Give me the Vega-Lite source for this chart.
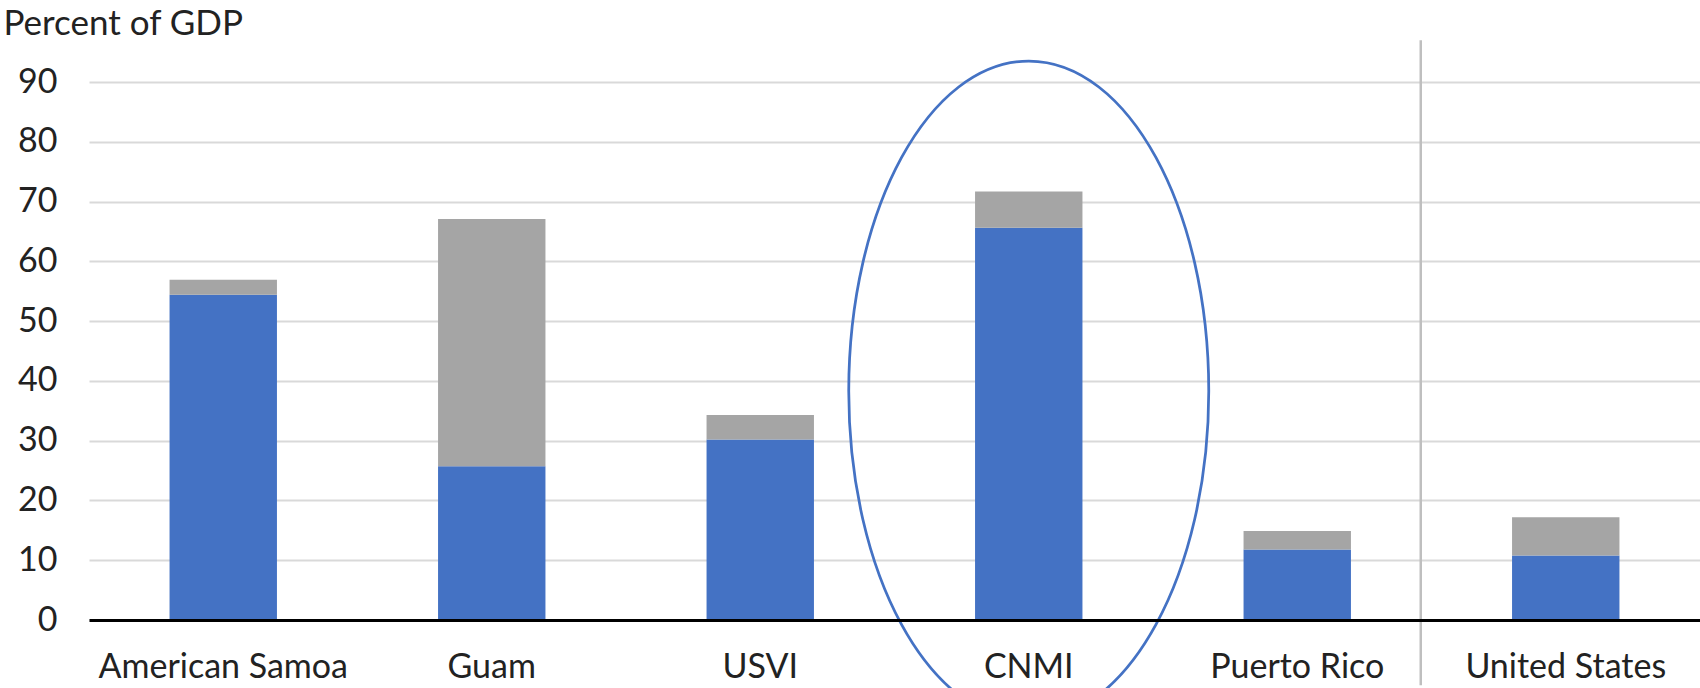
{
  "$schema": "https://vega.github.io/schema/vega-lite/v6.json",
  "width": 1611,
  "height": 538,
  "autosize": {"type": "none"},
  "padding": {"left": 89, "right": 0, "top": 82, "bottom": 68},
  "background": "white",
  "config": {"view": {"stroke": null}, "font": "Lato"},
  "datasets": {
    "bars": [
      {"country": "American Samoa", "part": "Primary", "value": 54.4},
      {"country": "American Samoa", "part": "Secondary", "value": 2.5},
      {"country": "Guam", "part": "Primary", "value": 25.7},
      {"country": "Guam", "part": "Secondary", "value": 41.4},
      {"country": "USVI", "part": "Primary", "value": 30.2},
      {"country": "USVI", "part": "Secondary", "value": 4.1},
      {"country": "CNMI", "part": "Primary", "value": 65.6},
      {"country": "CNMI", "part": "Secondary", "value": 6.1},
      {"country": "Puerto Rico", "part": "Primary", "value": 11.8},
      {"country": "Puerto Rico", "part": "Secondary", "value": 3.1},
      {"country": "United States", "part": "Primary", "value": 10.8},
      {"country": "United States", "part": "Secondary", "value": 6.4}
    ],
    "separator": [{"country": "United States", "value": 97.0, "value2": -10.9}],
    "focus": [{"country": "CNMI", "value": 38.3}]
  },
  "encoding": {
    "x": {
      "field": "country",
      "type": "nominal",
      "sort": null,
      "scale": {
        "domain": ["American Samoa", "Guam", "USVI", "CNMI", "Puerto Rico", "United States"],
        "paddingInner": 0,
        "paddingOuter": 0
      },
      "axis": {
        "title": null,
        "labelAngle": 0,
        "labelFontSize": 34,
        "labelLimit": 0,
        "labelColor": "#222222",
        "labelBaseline": "alphabetic",
        "labelPadding": 57,
        "ticks": false,
        "tickSize": 0,
        "domainColor": "#000000",
        "domainWidth": 3,
        "grid": false,
        "zindex": 1
      }
    },
    "y": {
      "field": "value",
      "type": "quantitative",
      "scale": {"domain": [0, 90], "nice": false},
      "axis": {
        "title": "Percent of GDP",
        "titleAngle": 0,
        "titleAlign": "left",
        "titleBaseline": "alphabetic",
        "titleX": -86,
        "titleY": -48,
        "titleFontSize": 35,
        "titleFontWeight": "normal",
        "titleColor": "#222222",
        "titleLimit": 0,
        "values": [0, 10, 20, 30, 40, 50, 60, 70, 80, 90],
        "labelFontSize": 34,
        "labelColor": "#222222",
        "labelPadding": 32,
        "labelBaseline": "middle",
        "ticks": false,
        "tickSize": 0,
        "domain": false,
        "grid": true,
        "gridColor": "#d9d9d9",
        "gridWidth": 2
      }
    }
  },
  "layer": [
    {
      "data": {"name": "bars"},
      "mark": {"type": "bar", "width": {"band": 0.4}},
      "encoding": {
        "y": {"field": "value", "type": "quantitative", "stack": "zero"},
        "color": {
          "field": "part",
          "type": "nominal",
          "scale": {"domain": ["Primary", "Secondary"], "range": ["#4472C4", "#A5A5A5"]},
          "legend": null
        },
        "order": {"field": "part", "sort": "ascending"}
      }
    },
    {
      "data": {"name": "separator"},
      "mark": {"type": "rule", "color": "#bfbfbf", "strokeWidth": 2.5},
      "encoding": {
        "x": {"field": "country", "type": "nominal", "bandPosition": -0.04},
        "y2": {"field": "value2"}
      }
    },
    {
      "data": {"name": "focus"},
      "mark": {
        "type": "point",
        "shape": "M0,-1C0.3013,-1 0.5455,-0.5523 0.5455,0C0.5455,0.5523 0.3013,1 0,1C-0.3013,1 -0.5455,0.5523 -0.5455,0C-0.5455,-0.5523 -0.3013,-1 0,-1Z",
        "size": 435600,
        "filled": false,
        "fill": null,
        "stroke": "#4472C4",
        "strokeWidth": 2.75,
        "opacity": 1
      },
      "encoding": {}
    }
  ]
}
